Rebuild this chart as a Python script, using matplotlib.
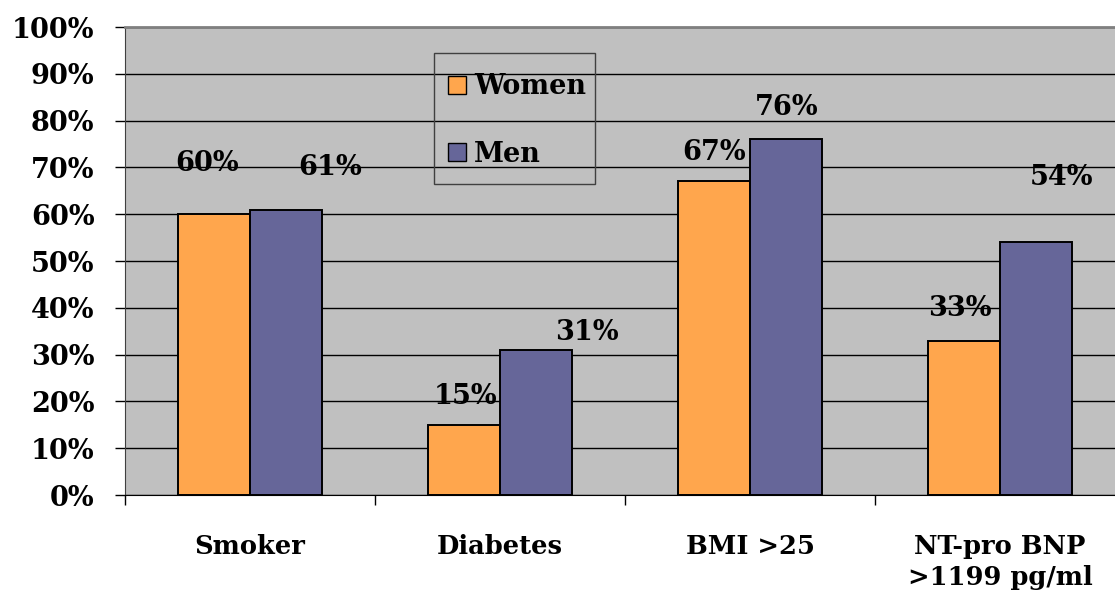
import numpy as np
import matplotlib.pyplot as plt
from matplotlib.patches import Patch, Rectangle

categories = ["Smoker", "Diabetes", "BMI >25", "NT-pro BNP\n>1199 pg/ml"]
women = [60, 15, 67, 33]
men = [61, 31, 76, 54]
yticks = [0, 10, 20, 30, 40, 50, 60, 70, 80, 90, 100]

# label offsets from the bar top, in pixels (dx, dy)
women_offsets = [(-7, 51), (1, 28), (0, 29), (-4, 32)]
men_offsets = [(44, 42), (51, 17), (1, 32), (26, 65)]

ORANGE = "#FFA64D"
PURPLE = "#666699"
GRAY = "#C0C0C0"
FONT = "DejaVu Serif"

W, H = 1115, 597
fig = plt.figure(figsize=(W / 100, H / 100), dpi=100)
ax = fig.add_axes([125 / W, (H - 495) / H, 1000 / W, (495 - 27) / H])
ax.set_facecolor(GRAY)

x = np.arange(len(categories))
bw = 0.287
ax.set_axisbelow(True)
ax.yaxis.grid(True, color="black", linewidth=1.0)
bw_bars = ax.bar(x - bw / 2, women, bw, color=ORANGE, edgecolor="black", linewidth=1.4, label="Women")
bm_bars = ax.bar(x + bw / 2, men, bw, color=PURPLE, edgecolor="black", linewidth=1.4, label="Men")

for bars, vals, offs in ((bw_bars, women, women_offsets), (bm_bars, men, men_offsets)):
    for b, v, (dx, dy) in zip(bars, vals, offs):
        ax.annotate(f"{v}%", xy=(b.get_x() + b.get_width() / 2, v),
                    xytext=(dx, dy), textcoords="offset pixels",
                    ha="center", va="center", fontsize=19.5,
                    fontweight="bold", family=FONT)

ax.set_xlim(-0.5, len(categories) - 0.5)
ax.set_ylim(0, 100)
ax.set_yticks(yticks)
ax.set_yticklabels([f"{t}%" for t in yticks], fontsize=19.5, fontweight="bold", family=FONT)
ax.tick_params(axis="y", length=7, width=1, pad=15, color="black")

ax.set_xticks(x)
ax.set_xticklabels(categories, fontsize=18.5, fontweight="bold", family=FONT, linespacing=1.3)
ax.set_xticks(np.arange(len(categories) + 1) - 0.5, minor=True)
ax.tick_params(axis="x", which="major", length=0, pad=28)
ax.tick_params(axis="x", which="minor", length=7, width=1, color="black")

ax.spines["top"].set_color("#808080")
ax.spines["top"].set_linewidth(2)
ax.spines["right"].set_visible(False)
ax.spines["left"].set_color("#404040")
ax.spines["bottom"].set_color("black")

# legend outline drawn separately (transparent, grid shows through)
fig.add_artist(Rectangle((434 / W, 1 - 184 / H), (595 - 434) / W, (184 - 53) / H,
                         transform=fig.transFigure, facecolor="none",
                         edgecolor="#404040", linewidth=1.0, zorder=3))
handles = [Patch(facecolor=ORANGE, edgecolor="black", label="Women"),
           Patch(facecolor=PURPLE, edgecolor="black", label="Men")]
leg = fig.legend(handles=handles, loc="upper left",
                 bbox_to_anchor=(434 / W, 1 - 59 / H), bbox_transform=fig.transFigure,
                 borderaxespad=0, frameon=False, handlelength=0.65, handleheight=0.65,
                 handletextpad=0.3, labelspacing=1.5, borderpad=0.52,
                 prop={"family": FONT, "weight": "bold", "size": 19.5})
leg.set_zorder(4)

fig.savefig("out.png", dpi=100)
